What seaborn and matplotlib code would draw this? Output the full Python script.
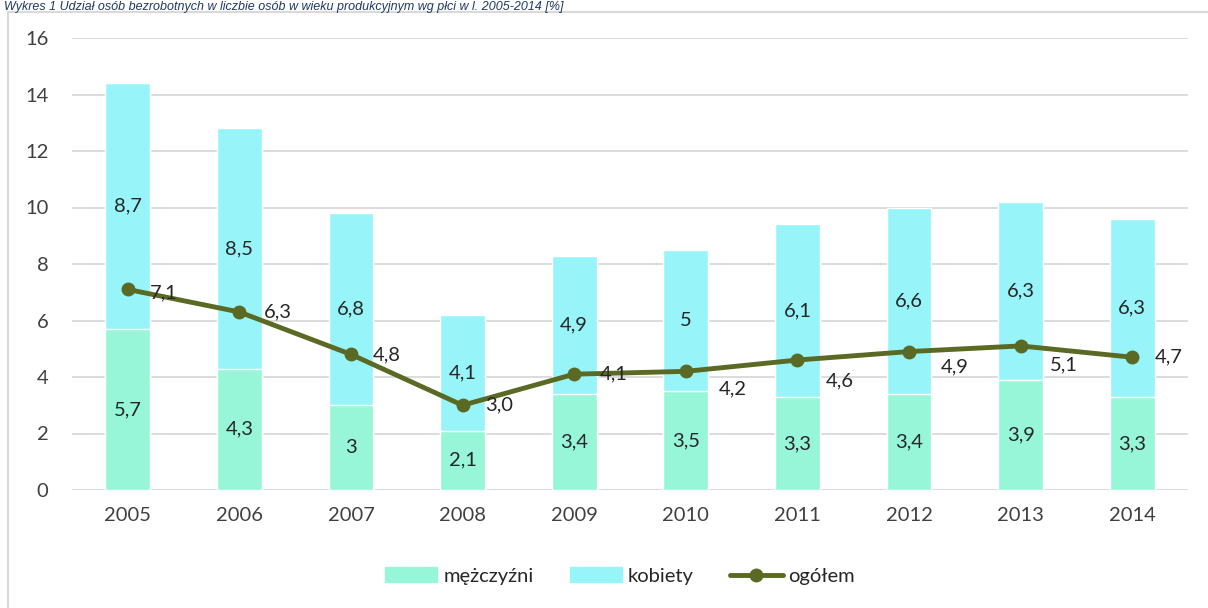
import pandas as pd
import seaborn as sns
import matplotlib.pyplot as plt
from matplotlib.patches import Rectangle, Patch
from matplotlib.lines import Line2D

years = ['2005', '2006', '2007', '2008', '2009', '2010', '2011', '2012', '2013', '2014']
men = [5.7, 4.3, 3, 2.1, 3.4, 3.5, 3.3, 3.4, 3.9, 3.3]
women = [8.7, 8.5, 6.8, 4.1, 4.9, 5, 6.1, 6.6, 6.3, 6.3]
total = [7.1, 6.3, 4.8, 3.0, 4.1, 4.2, 4.6, 4.9, 5.1, 4.7]
men_labels = ['5,7', '4,3', '3', '2,1', '3,4', '3,5', '3,3', '3,4', '3,9', '3,3']
women_labels = ['8,7', '8,5', '6,8', '4,1', '4,9', '5', '6,1', '6,6', '6,3', '6,3']
# label nudges for the "ogółem" values (pixels)
lbl_dx = [22, 24, 22, 23, 26, 33, 28, 32, 29, 23]
lbl_dy = [-3, 0, 0, 0, 0, -18, -21, -15, -19, 0]

c_men = '#98F6D8'
c_women = '#97F5F9'
c_line = '#5A6A24'
fs = 14.5

sns.set_style('white')
plt.rcParams['font.family'] = ['Lato', 'DejaVu Sans']

df = pd.DataFrame({'rok': years, 'mezczyzni': men, 'kobiety': women, 'ogolem': total})
df['suma'] = df['mezczyzni'] + df['kobiety']

fig = plt.figure(figsize=(12.08, 6.08), dpi=100)
ax = fig.add_axes([72 / 1208, 1 - 490 / 608, 1116 / 1208, 452 / 608])

# frame around the chart
fig.patches.append(Rectangle((8 / 1208, -0.01), 1.1, 1 - 12 / 608 + 0.01,
                             transform=fig.transFigure, fill=False,
                             edgecolor='#D9D9D9', linewidth=1.5))
fig.text(4 / 1208, 1 - 1 / 608,
         'Wykres 1 Udział osób bezrobotnych w liczbie osób w wieku produkcyjnym wg płci w l. 2005-2014 [%]',
         fontsize=9, style='italic', color='#1F3864', va='top', ha='left',
         family=['Liberation Sans', 'DejaVu Sans'])

sns.barplot(data=df, x='rok', y='suma', color=c_women, width=0.4,
            saturation=1, ax=ax, zorder=2)
sns.barplot(data=df, x='rok', y='mezczyzni', color=c_men, width=0.4,
            saturation=1, ax=ax, zorder=3)
ax.plot(range(len(years)), df['ogolem'], color=c_line, linewidth=3.5,
        marker='o', markersize=9, zorder=5)

for i in range(len(years)):
    ax.text(i, men[i] / 2, men_labels[i], ha='center', va='center',
            fontsize=fs, color='#262626', zorder=6)
    ax.text(i, men[i] + women[i] / 2, women_labels[i], ha='center', va='center',
            fontsize=fs, color='#262626', zorder=6)
    ax.annotate(f'{total[i]:.1f}'.replace('.', ','), (i, total[i]),
                xytext=(lbl_dx[i], lbl_dy[i]), textcoords='offset pixels',
                ha='left', va='center', fontsize=fs, color='#262626', zorder=6)

ax.set_ylim(0, 16)
ax.set_xlim(-0.5, 9.5)
ax.set_yticks(range(0, 17, 2))
ax.yaxis.grid(True, color='#D9D9D9', linewidth=1.3, zorder=0)
ax.set_axisbelow(True)
for s in ax.spines.values():
    s.set_visible(False)
ax.tick_params(axis='both', length=0, labelsize=fs, labelcolor='#404040')
ax.tick_params(axis='x', pad=12)
ax.tick_params(axis='y', pad=17)
ax.set_xlabel('')
ax.set_ylabel('')

handles = [Patch(color=c_men), Patch(color=c_women),
           Line2D([], [], color=c_line, linewidth=3.5, marker='o', markersize=9)]
fig.legend(handles, ['mężczyźni', 'kobiety', 'ogółem'], loc='center',
           bbox_to_anchor=(620 / 1208, 1 - 576 / 608), ncol=3, frameon=False,
           fontsize=fs, handlelength=2.6, handletextpad=0.3, columnspacing=1.8,
           labelcolor='#262626')

fig.savefig('out.png', dpi=100)
